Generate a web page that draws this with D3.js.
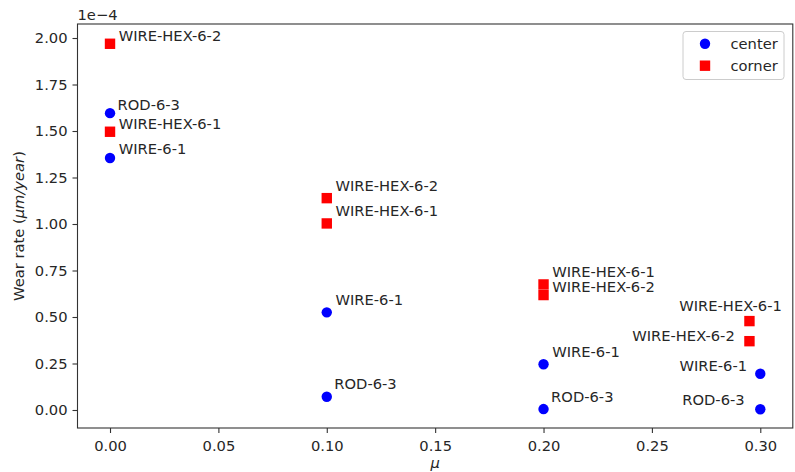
<!DOCTYPE html>
<html><head><meta charset="utf-8">
<script src="https://cdn.jsdelivr.net/npm/d3@7"></script>
<style>body{margin:0;background:#fff}svg{display:block;font-family:"DejaVu Sans",sans-serif}</style>
</head><body><svg id="c" width="795" height="472"></svg>
<script>
// Data (wear rate in units of 1e-4 µm/year)
const centerMu = [0, 0, 0.1, 0.1, 0.2, 0.2, 0.3, 0.3];
const centerRate = [1.596, 1.355, 0.525, 0.071, 0.246, 0.005, 0.195, 0.004];
const centerNames = ["ROD-6-3", "WIRE-6-1", "WIRE-6-1", "ROD-6-3", "WIRE-6-1", "ROD-6-3", "WIRE-6-1", "ROD-6-3"];
const centerLabelMu = [0.0035, 0.004, 0.104, 0.1035, 0.204, 0.2035, 0.2627, 0.2640];
const centerLabelRate = [1.611, 1.377, 0.562, 0.112, 0.285, 0.043, 0.2105, 0.027];

const cornerMu = [0, 0, 0.1, 0.1, 0.2, 0.2, 0.295, 0.295];
const cornerRate = [1.969, 1.496, 1.139, 1.003, 0.675, 0.618, 0.478, 0.370];
const cornerNames = ["WIRE-HEX-6-2", "WIRE-HEX-6-1", "WIRE-HEX-6-2", "WIRE-HEX-6-1", "WIRE-HEX-6-1", "WIRE-HEX-6-2", "WIRE-HEX-6-1", "WIRE-HEX-6-2"];
const cornerLabelMu = [0.004, 0.004, 0.104, 0.104, 0.204, 0.204, 0.2626, 0.2409];
const cornerLabelRate = [1.985, 1.510, 1.178, 1.041, 0.713, 0.634, 0.532, 0.370];

const xTicks = [0, 0.05, 0.10, 0.15, 0.20, 0.25, 0.30];
const yTicks = [0, 0.25, 0.5, 0.75, 1.0, 1.25, 1.5, 1.75, 2.0];
const seriesNames = ["center", "corner"];

const svg = d3.select("#c");
const L = 77.5, R = 792.8, T = 24, B = 428;
const x = d3.scaleLinear().domain([-0.015, 0.315]).range([L, R]);
const y = d3.scaleLinear().domain([-0.0968, 2.0753]).range([B, T]);
const FS = "14.7px", TXT = "#262626", AX = "#333";

// axes
const xAxis = svg.append("g").attr("transform", `translate(0,${B})`)
  .call(d3.axisBottom(x).tickValues(xTicks).tickFormat(d3.format(".2f")).tickSizeOuter(0).tickSize(5).tickPadding(6));
const yAxis = svg.append("g").attr("transform", `translate(${L},0)`)
  .call(d3.axisLeft(y).tickValues(yTicks).tickFormat(d3.format(".2f")).tickSizeOuter(0).tickSize(5).tickPadding(5));
[xAxis, yAxis].forEach(g => {
  g.select(".domain").remove();
  g.selectAll("line").attr("stroke", AX).attr("stroke-width", 1.1);
  g.selectAll("text").attr("fill", TXT).style("font-size", FS).style("font-family", '"DejaVu Sans"');
});
xAxis.selectAll("text").attr("dy", "0.8em");

// frame
svg.append("rect").attr("x", L).attr("y", T).attr("width", R - L).attr("height", B - T)
  .attr("fill", "none").attr("stroke", AX).attr("stroke-width", 1.1);

// offset text
svg.append("text").attr("x", L).attr("y", 20).attr("fill", TXT).style("font-size", FS).text("1e\u22124");

// axis labels
svg.append("text").attr("x", (L + R) / 2).attr("y", 468).attr("text-anchor", "middle")
  .attr("fill", TXT).style("font-size", FS).style("font-style", "italic").text("\u03bc");
const yl = svg.append("text").attr("transform", `translate(24,${(T + B) / 2}) rotate(-90)`)
  .attr("text-anchor", "middle").attr("fill", TXT).style("font-size", FS);
yl.append("tspan").text("Wear rate (");
yl.append("tspan").style("font-style", "italic").text("\u03bcm/year");
yl.append("tspan").text(")");

// points
const centerData = centerMu.map((m, i) => ({m, r: centerRate[i], name: centerNames[i], lm: centerLabelMu[i], lr: centerLabelRate[i]}));
const cornerData = cornerMu.map((m, i) => ({m, r: cornerRate[i], name: cornerNames[i], lm: cornerLabelMu[i], lr: cornerLabelRate[i]}));

svg.append("g").selectAll("circle").data(centerData).join("circle")
  .attr("cx", d => x(d.m)).attr("cy", d => y(d.r)).attr("r", 5.2).attr("fill", "#0000ff");
svg.append("g").selectAll("rect").data(cornerData).join("rect")
  .attr("x", d => x(d.m) - 5.2).attr("y", d => y(d.r) - 5.2).attr("width", 10.4).attr("height", 10.4).attr("fill", "#ff0000");

// labels
svg.append("g").selectAll("text").data(centerData.concat(cornerData)).join("text")
  .attr("x", d => x(d.lm)).attr("y", d => y(d.lr)).attr("fill", TXT).style("font-size", FS).text(d => d.name);

// legend
const lg = svg.append("g");
lg.append("rect").attr("x", 683).attr("y", 31.5).attr("width", 101).attr("height", 48).attr("rx", 3)
  .attr("fill", "#fff").attr("fill-opacity", 0.8).attr("stroke", "#cccccc").attr("stroke-width", 1);
lg.append("circle").attr("cx", 705).attr("cy", 43.7).attr("r", 5.2).attr("fill", "#0000ff");
lg.append("rect").attr("x", 705 - 5.2).attr("y", 65.7 - 5.2).attr("width", 10.4).attr("height", 10.4).attr("fill", "#ff0000");
seriesNames.forEach((s, i) => {
  lg.append("text").attr("x", 730.5).attr("y", 48.5 + i * 22).attr("fill", TXT).style("font-size", FS).text(s);
});
</script></body></html>
